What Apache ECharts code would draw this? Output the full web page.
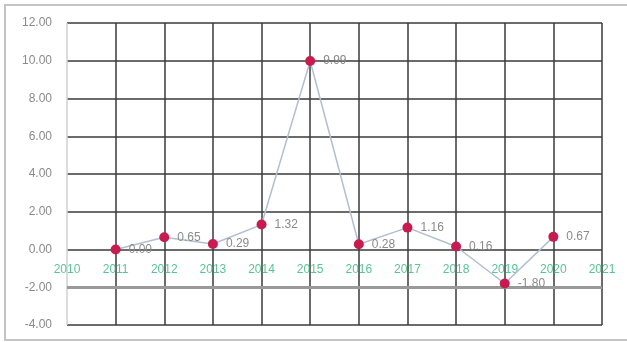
<!DOCTYPE html>
<html>
<head>
<meta charset="utf-8">
<script src="https://cdn.jsdelivr.net/npm/echarts@6/dist/echarts.min.js"></script>
<style>
  html, body { margin: 0; padding: 0; background: #fff; }
  #chart { width: 627px; height: 342px; }
</style>
</head>
<body>
<div id="chart"></div>
<script>
// Yearly values
const years = [2011, 2012, 2013, 2014, 2015, 2016, 2017, 2018, 2019, 2020];
const values = [0.00, 0.65, 0.29, 1.32, 9.99, 0.28, 1.16, 0.16, -1.80, 0.67];

// Year tick labels, written along the zero line
const tickYears = [2010, 2011, 2012, 2013, 2014, 2015, 2016, 2017, 2018, 2019, 2020, 2021];

// Axis ranges
const xMin = 2010, xMax = 2021;
const yMin = -4, yMax = 12, yStep = 2;
const baselineValue = -2;

const points = years.map((y, i) => [y, values[i]]);
const tickPoints = tickYears.map(y => [y, 0]);

const chart = echarts.init(document.getElementById('chart'), null, { renderer: 'canvas' });

const vColors = ['#d0d0d0'];
for (let i = 1; i <= xMax - xMin; i++) vColors.push('#3a3a3a');

chart.setOption({
  animation: false,
  backgroundColor: '#ffffff',
  graphic: [{
    type: 'rect',
    shape: { x: 5, y: 5, width: 700, height: 335 },
    style: { fill: 'none', stroke: '#c4c4c4', lineWidth: 2 },
    silent: true
  }],
  grid: {
    left: 67, right: 25, top: 23, bottom: 17,
    containLabel: false,
    outerBoundsMode: 'none'
  },
  xAxis: {
    type: 'value',
    min: xMin,
    max: xMax,
    interval: 1,
    axisLine: { show: false },
    axisTick: { show: false },
    axisLabel: { show: false },
    splitLine: { show: true, lineStyle: { color: vColors, width: 1.5 } }
  },
  yAxis: {
    type: 'value',
    min: yMin,
    max: yMax,
    interval: yStep,
    axisLine: { show: false },
    axisTick: { show: false },
    axisLabel: {
      color: '#8a8a8a',
      fontFamily: 'Liberation Sans',
      fontSize: 12,
      margin: 15,
      formatter: v => v.toFixed(2)
    },
    splitLine: { show: true, lineStyle: { color: '#3a3a3a', width: 1.5 } }
  },
  series: [{
    type: 'line',
    data: points,
    symbol: 'circle',
    symbolSize: 10,
    lineStyle: { color: '#b3bed2', width: 1.5 },
    itemStyle: { color: '#c81c50' },
    label: {
      show: true,
      position: 'right',
      distance: 8,
      color: '#8a8a8a',
      fontFamily: 'Liberation Sans',
      fontSize: 12,
      formatter: p => p.value[1].toFixed(2)
    },
    markLine: {
      silent: true,
      symbol: ['none', 'none'],
      label: { show: false },
      lineStyle: { color: '#9a9a9a', width: 3, type: 'solid' },
      data: [{ yAxis: baselineValue }]
    },
    z: 5
  }, {
    type: 'scatter',
    data: tickPoints,
    symbol: 'circle',
    symbolSize: 1,
    silent: true,
    clip: false,
    itemStyle: { color: 'rgba(0,0,0,0)' },
    label: {
      show: true,
      position: 'bottom',
      distance: 14,
      color: '#2fb57a',
      fontFamily: 'Liberation Sans',
      fontSize: 12,
      formatter: p => String(p.value[0])
    },
    z: 4
  }]
});
</script>
</body>
</html>
